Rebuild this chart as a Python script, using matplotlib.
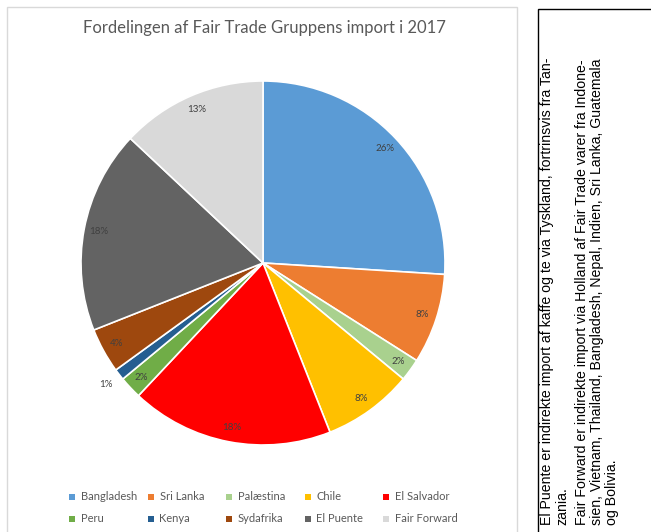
import matplotlib
matplotlib.use("Agg")
import matplotlib.pyplot as plt
from matplotlib.patches import Rectangle
import numpy as np

# Data (share of import, %)
countries = ["Bangladesh", "Sri Lanka", "Palæstina", "Chile", "El Salvador",
             "Peru", "Kenya", "Sydafrika", "El Puente", "Fair Forward"]
shares = [26, 8, 2, 8, 18, 2, 1, 4, 18, 13]
colors = ["#5B9BD5", "#ED7D31", "#A9D18E", "#FFC000", "#FF0000",
          "#70AD47", "#255E91", "#9E480E", "#636363", "#D9D9D9"]
title = "Fordelingen af Fair Trade Gruppens import i 2017"

note_lines = [
    "El Puente er indirekte import af kaffe og te via Tyskland, fortrinsvis fra Tan-",
    "zania.",
    "Fair Forward er indirekte import via Holland af Fair Trade varer fra Indone-",
    "sien, Vietnam, Thailand, Bangladesh, Nepal, Indien, Sri Lanka, Guatemala",
    "og Bolivia.",
]
note_x = [547, 562, 582, 597, 612]   # pixel columns of the rotated lines

W, H = 651, 532
fig = plt.figure(figsize=(W / 100, H / 100), dpi=100)
fig.patch.set_facecolor("white")

def fx(px):
    return px / W

def fy(py):
    return 1 - py / H

# chart frame (light grey) and note box (black)
fig.patches.append(Rectangle((fx(7), fy(540)), fx(517) - fx(7), fy(7) - fy(540),
                             transform=fig.transFigure, fill=False,
                             edgecolor="#D9D9D9", linewidth=1.0))
fig.patches.append(Rectangle((fx(538), fy(540)), fx(660) - fx(538), fy(9) - fy(540),
                             transform=fig.transFigure, fill=False,
                             edgecolor="black", linewidth=1.0))

# pie axes: centre (263, 263), radius 182 px
cx, cy, r = 263, 263, 182
ax = fig.add_axes([fx(cx - r), fy(cy + r), 2 * r / W, 2 * r / H])
wedges, texts, autotexts = ax.pie(
    shares, colors=colors, startangle=90, counterclock=False,
    autopct="%1.0f%%", pctdistance=0.92,
    wedgeprops={"edgecolor": "white", "linewidth": 1.2},
    textprops={"fontsize": 7, "color": "#404040", "family": "Lato"})
ax.set_xlim(-1, 1)
ax.set_ylim(-1, 1)
ax.set_aspect("equal")
ax.axis("off")

# the tiny Kenya slice has its label outside the pie
k = countries.index("Kenya")
th = np.deg2rad((wedges[k].theta1 + wedges[k].theta2) / 2)
autotexts[k].set_position((1.09 * np.cos(th), 1.09 * np.sin(th)))

fig.text(fx(264), fy(28), title, ha="center", va="center",
         fontsize=12, color="#595959", family="Lato")

# legend, two rows of five equally spaced entries
for i, (name, col) in enumerate(zip(countries, colors)):
    x = 72 + (i % 5) * 78.5
    y = 497 + (i // 5) * 22
    fig.patches.append(Rectangle((fx(x - 3), fy(y + 3)), 6 / W, 6 / H,
                                 transform=fig.transFigure, facecolor=col,
                                 edgecolor="none"))
    fig.text(fx(x + 9), fy(y), name, ha="left", va="center",
             fontsize=8, color="#595959", family="Lato")

# rotated note text
for x, line in zip(note_x, note_lines):
    fig.text(fx(x), fy(525), line, rotation=90, ha="center", va="bottom",
             fontsize=10.2, color="black", family="Liberation Sans")

fig.savefig("out.png", dpi=100)
